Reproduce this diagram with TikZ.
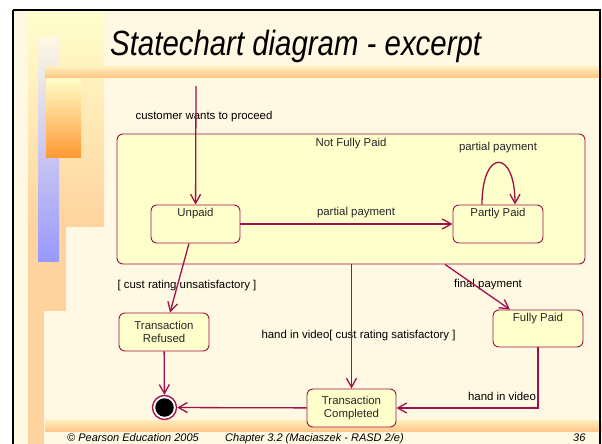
\documentclass[tikz,border=0pt]{standalone}
\usepackage{fontspec}
\setmainfont{Liberation Sans}
\newfontfamily\titlefont[FakeStretch=0.84]{Liberation Sans}
\usetikzlibrary{arrows.meta, positioning}
\definecolor{slideCream}{HTML}{FFF8E2}
\definecolor{stateRed}{HTML}{A0104A}
\definecolor{stateFill}{HTML}{FFFFCC}
\definecolor{peach}{HTML}{FFD39E}
\definecolor{paleYellow}{HTML}{FFFFCC}
\definecolor{barBlue}{HTML}{9999FF}
\definecolor{barOrange}{HTML}{FF9933}

\begin{document}
\begin{tikzpicture}[
    x=1pt, y=-1pt,
    state/.style={rectangle, draw=stateRed, fill=stateFill, rounded corners=6pt, line width=0.9pt, align=center, font=\fontsize{11.4}{13}\selectfont, text=black!85, inner sep=0pt},
    statename/.style={anchor=north, inner sep=3pt, font=\fontsize{11.4}{13}\selectfont, text=black!85},
    trans/.style={font=\fontsize{11.4}{13}\selectfont, inner sep=0pt},
    footer/.style={font=\itshape\fontsize{11}{13}\selectfont, inner sep=0pt, anchor=base west},
    arrow/.style={-{Straight Barb[length=9pt,width=10pt]}, draw=stateRed, line width=1.3pt},
]
    \useasboundingbox (0,0) rectangle (602,444);
    \clip (0,0) rectangle (602,444);

    % Slide background
    \fill[white] (0,0) rectangle (602,444);
    \fill[slideCream] (13,10) rectangle (602,460);
    \fill[top color=paleYellow, bottom color=peach] (28,13) rectangle (104,226);
    \fill[peach] (28,226) rectangle (44,460);
    \fill[peach] (41,226) rectangle (66,311);
    \fill[top color=slideCream, bottom color=barBlue] (38,37) rectangle (59,261);
    \fill[top color=paleYellow, bottom color=barOrange] (46,77) rectangle (81,157);
    \fill[top color=paleYellow!60!peach, bottom color=peach!80!barOrange] (45,67) rectangle (602,77);
    \fill[top color=paleYellow!60!peach, bottom color=peach!80!barOrange] (45,420) rectangle (602,431);
    \draw[line width=2pt] (13,10) -- (600,10) -- (600,460) (13,10) -- (13,460);

    % Title and footer
    \node[anchor=base west, inner sep=0pt, font=\titlefont\itshape\fontsize{35}{40}\selectfont] (title) at (110,56) {Statechart diagram - excerpt};
    \node[footer] (copyright) at (67,441) {\textcopyright{} Pearson Education 2005};
    \node[footer] (chapter) at (225,441) {Chapter 3.2 (Maciaszek - RASD 2/e)};
    \node[footer] (pageno) at (573,441) {36};

    % Nodes
    \node[state, minimum width=468pt, minimum height=130pt, label={[statename, inner sep=4pt]north:Not Fully Paid}] (notpaid) at (351,199) {};
    \node[state, minimum width=89pt, minimum height=38pt, label={[statename]north:Unpaid}] (unpaid) at (195.5,224) {};
    \node[state, minimum width=90pt, minimum height=38pt, label={[statename]north:Partly Paid}] (partly) at (498,224) {};
    \node[state, minimum width=90pt, minimum height=37pt, label={[statename]north:Fully Paid}] (fully) at (538,328.5) {};
    \node[state, minimum width=90pt, minimum height=38pt] (refused) at (164,332) {Transaction\\Refused};
    \node[state, minimum width=89pt, minimum height=38pt] (completed) at (351.5,408) {Transaction\\Completed};
    \node[circle, draw=stateRed, line width=1.3pt, fill=white, minimum size=24pt, inner sep=0pt] (final) at (164.5,407.5) {};
    \node[circle, fill=black, minimum size=18.5pt, inner sep=0pt] (finaldot) at (final) {};
    \coordinate (start) at (196,86);

    % Labels
    \node[trans] (lcustomer) at (204,117) {customer wants to proceed};
    \node[statename, anchor=center, inner sep=0pt] (lpartial) at (356,213) {partial payment};
    \node[statename, anchor=center, inner sep=0pt] (lself) at (498,148) {partial payment};
    \node[trans] (lrefuse) at (187,286) {[ cust rating unsatisfactory ]};
    \node[trans] (lfinal) at (488,285) {final payment};
    \node[trans] (lsatisfy) at (358.5,336) {hand in video[ cust rating satisfactory ]};
    \node[trans] (lhandin) at (502,396) {hand in video};

    % Arrows
    \draw[arrow] (start) -- (unpaid);
    \draw[arrow] (unpaid) -- (partly);
    \draw[arrow] ([xshift=-16pt]partly.north) .. controls +(0,-56) and +(0,-56) .. ([xshift=17pt]partly.north);
    \draw[arrow] ([xshift=-6.5pt]unpaid.south) -- ([xshift=6pt]refused.north);
    \draw[arrow] (refused) -- (final);
    \draw[arrow] (completed |- notpaid.south) -- (completed.north);
    \draw[arrow] ([xshift=94pt]notpaid.south) -- ([xshift=-28pt]fully.north);
    \draw[arrow] (fully.south) -- (fully.south |- completed) -- (completed.east);
    \draw[arrow] (completed) -- (final);
\end{tikzpicture}
\end{document}
